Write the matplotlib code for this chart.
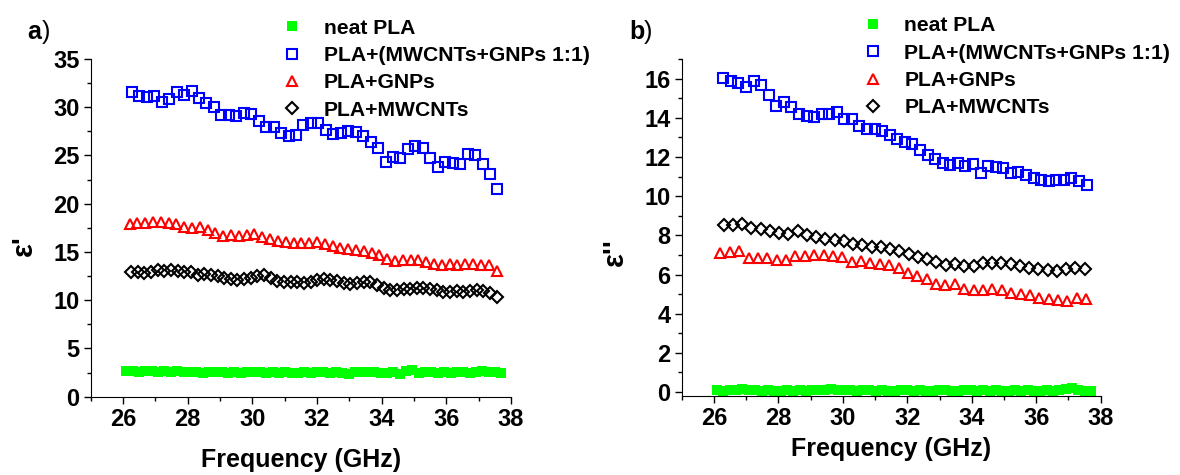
import numpy as np
import matplotlib
matplotlib.use("Agg")
import matplotlib.pyplot as plt

plt.rcParams['font.family'] = ['Liberation Sans', 'DejaVu Sans']
plt.rcParams['font.weight'] = 'bold'

labels = ['neat PLA', 'PLA+(MWCNTs+GNPs 1:1)', 'PLA+GNPs', 'PLA+MWCNTs']

# ---- panel a: real permittivity
a_neat = [2.7, 2.65, 2.6, 2.65, 2.65, 2.6, 2.65, 2.6, 2.65, 2.6, 2.55, 2.6, 2.5, 2.6, 2.55,
          2.55, 2.5, 2.6, 2.45, 2.55, 2.6, 2.55, 2.5, 2.55, 2.5, 2.55, 2.45, 2.5, 2.55, 2.5,
          2.55, 2.55, 2.5, 2.6, 2.5, 2.4, 2.6, 2.55, 2.6, 2.55, 2.5, 2.45, 2.6, 2.4, 2.65,
          2.8, 2.5, 2.6, 2.55, 2.5, 2.6, 2.5, 2.55, 2.6, 2.5, 2.6, 2.65, 2.55, 2.6, 2.45]
a_hyb = [31.56, 31.2, 31.05, 31.2, 30.5, 30.9, 31.56, 31.3, 31.7, 30.95, 30.4, 29.98, 29.16,
         29.16, 29.05, 29.4, 29.33, 28.54, 28.0, 28.0, 27.34, 27.0, 27.16, 28.2, 28.37, 28.37,
         27.68, 27.23, 27.34, 27.58, 27.4, 27.0, 26.4, 25.8, 24.35, 24.86, 24.76, 25.7, 25.96,
         25.8, 24.76, 23.8, 24.35, 24.24, 24.07, 25.2, 25.1, 24.07, 23.1, 21.56]
a_gnp = [17.9, 18.0, 18.0, 18.1, 18.1, 18.0, 17.9, 17.6, 17.5, 17.6, 17.3, 17.0, 16.7, 16.8,
         16.7, 16.8, 16.9, 16.6, 16.3, 16.1, 16.0, 15.9, 15.9, 15.9, 16.0, 15.8, 15.6, 15.4,
         15.3, 15.2, 15.1, 14.9, 14.7, 14.3, 14.1, 14.2, 14.2, 14.2, 14.0, 13.8, 13.7, 13.8,
         13.7, 13.8, 13.8, 13.7, 13.6, 13.0]
a_cnt = [12.9, 12.9, 12.8, 12.9, 13.1, 13.0, 13.1, 13.0, 12.9, 12.9, 12.6, 12.7, 12.6, 12.5,
         12.3, 12.2, 12.1, 12.2, 12.3, 12.5, 12.6, 12.3, 12.0, 11.9, 11.9, 11.9, 11.8, 11.9,
         12.1, 12.2, 12.1, 12.0, 11.8, 11.7, 11.8, 11.9, 11.9, 11.6, 11.3, 11.1, 11.1, 11.2,
         11.2, 11.3, 11.3, 11.2, 11.1, 10.9, 10.9, 11.0, 10.9, 11.0, 11.1, 11.0, 10.8, 10.3]

# ---- panel b: imaginary permittivity
b_neat = [0.1, 0.05, 0.1, 0.1, 0.15, 0.1, 0.1, 0.05, 0.1, 0.05, 0.05, 0.1, 0.05, 0.1, 0.05,
          0.1, 0.1, 0.1, 0.15, 0.1, 0.1, 0.1, 0.05, 0.1, 0.1, 0.05, 0.1, 0.05, 0.05, 0.1,
          0.1, 0.05, 0.1, 0.05, 0.05, 0.1, 0.1, 0.05, 0.05, 0.1, 0.1, 0.05, 0.1, 0.05, 0.1,
          0.05, 0.05, 0.1, 0.05, 0.1, 0.05, 0.05, 0.1, 0.05, 0.1, 0.15, 0.2, 0.1, 0.05, 0.05]
b_hyb = [16.03, 15.87, 15.78, 15.56, 15.87, 15.66, 15.16, 14.6, 14.78, 14.56, 14.19, 14.1,
         14.02, 14.19, 14.19, 14.32, 13.94, 13.94, 13.6, 13.43, 13.43, 13.35, 13.1, 12.93,
         12.76, 12.64, 12.34, 12.09, 11.89, 11.67, 11.59, 11.67, 11.54, 11.64, 11.17, 11.55,
         11.47, 11.42, 11.2, 11.25, 11.08, 10.92, 10.83, 10.75, 10.8, 10.83, 10.92, 10.75, 10.58]
b_gnp = [7.1, 7.15, 7.2, 6.85, 6.85, 6.85, 6.75, 6.75, 6.95, 6.95, 7.0, 7.0, 6.95, 6.9, 6.65,
         6.7, 6.6, 6.55, 6.5, 6.35, 6.1, 5.95, 5.75, 5.5, 5.45, 5.5, 5.25, 5.2, 5.2, 5.25,
         5.2, 5.05, 5.0, 4.95, 4.8, 4.75, 4.7, 4.65, 4.8, 4.75]
b_cnt = [8.55, 8.55, 8.6, 8.4, 8.3, 8.2, 8.1, 8.05, 8.2, 8.0, 7.9, 7.8, 7.75, 7.7, 7.55, 7.5,
         7.4, 7.4, 7.3, 7.2, 7.05, 6.9, 6.8, 6.65, 6.5, 6.55, 6.45, 6.45, 6.6, 6.6, 6.6, 6.55,
         6.45, 6.35, 6.3, 6.25, 6.2, 6.3, 6.35, 6.3]

# frequency grids (GHz): first / last measured point of each series
f_neat = (26.1, 37.7)
f_hyb_a, f_gnp_a, f_cnt_a = (26.27, 37.58), (26.2, 37.55), (26.25, 37.55)
f_hyb_b, f_gnp_b, f_cnt_b = (26.29, 37.56), (26.2, 37.55), (26.3, 37.5)


def grid(rng, vals):
    return np.linspace(rng[0], rng[1], len(vals))


def draw(ax, neat, hyb, gnp, cnt, fh, fg, fc):
    ax.plot(grid(f_neat, neat), neat, 's', color='#00ff00', ms=7.5, mew=0, label=labels[0])
    ax.plot(grid(fh, hyb), hyb, 's', mfc='none', mec='#0000ff', ms=6.8, mew=1.5, label=labels[1])
    ax.plot(grid(fg, gnp), gnp, '^', mfc='none', mec='#ff0000', ms=7.8, mew=1.5, label=labels[2])
    ax.plot(grid(fc, cnt), cnt, 'D', mfc='none', mec='black', ms=6.5, mew=1.5, label=labels[3])
    ax.spines['top'].set_visible(False)
    ax.spines['right'].set_visible(False)
    ax.set_xlim(25, 38)
    ax.set_xticks(range(26, 39, 2))
    ax.set_xticks(range(25, 39), minor=True)
    ax.tick_params(which='major', length=5, width=1, labelsize=17, pad=3)
    ax.tick_params(which='minor', length=3, width=1)
    for lab in ax.get_xticklabels() + ax.get_yticklabels():
        lab.set_fontweight('bold')


fig = plt.figure(figsize=(11.8, 4.75), dpi=100)
ax1 = fig.add_axes([0.0769, 0.1648, 0.3562, 0.711])
ax2 = fig.add_axes([0.5777, 0.1663, 0.3551, 0.7095])

draw(ax1, a_neat, a_hyb, a_gnp, a_cnt, f_hyb_a, f_gnp_a, f_cnt_a)
ax1.set_ylim(0, 35)
ax1.set_yticks(range(0, 36, 5))
ax1.set_yticks(np.arange(0, 35, 2.5), minor=True)

draw(ax2, b_neat, b_hyb, b_gnp, b_cnt, f_hyb_b, f_gnp_b, f_cnt_b)
ax2.set_ylim(-0.2, 17)
ax2.set_yticks(range(0, 17, 2))
ax2.set_yticks(range(0, 18), minor=True)

for ax, x0, y0 in ((ax1, 0.2388, 0.961), (ax2, 0.7305, 0.966)):
    ax.legend(loc='upper left', bbox_to_anchor=(x0, y0), bbox_transform=fig.transFigure,
              frameon=False, borderpad=0, borderaxespad=0, handlelength=1.0,
              handletextpad=1.0, labelspacing=0.4, prop={'weight': 'bold', 'size': 15.2})

fig.text(0.255, 0.031, 'Frequency (GHz)', ha='center', va='center', fontsize=18, fontweight='bold')
fig.text(0.755, 0.054, 'Frequency (GHz)', ha='center', va='center', fontsize=18, fontweight='bold')
fig.text(0.020, 0.482, "ε'", rotation=90, ha='center', va='center', fontsize=21, fontweight='bold')
fig.text(0.521, 0.47, "ε''", rotation=90, ha='center', va='center', fontsize=21, fontweight='bold')

fig.text(0.023, 0.933, 'a', ha='left', va='center', fontsize=18, fontweight='bold')
fig.text(0.0355, 0.933, ')', ha='left', va='center', fontsize=18, fontweight='normal')
fig.text(0.533, 0.933, 'b', ha='left', va='center', fontsize=18, fontweight='bold')
fig.text(0.5455, 0.933, ')', ha='left', va='center', fontsize=18, fontweight='normal')

fig.savefig('out.png', dpi=100)
